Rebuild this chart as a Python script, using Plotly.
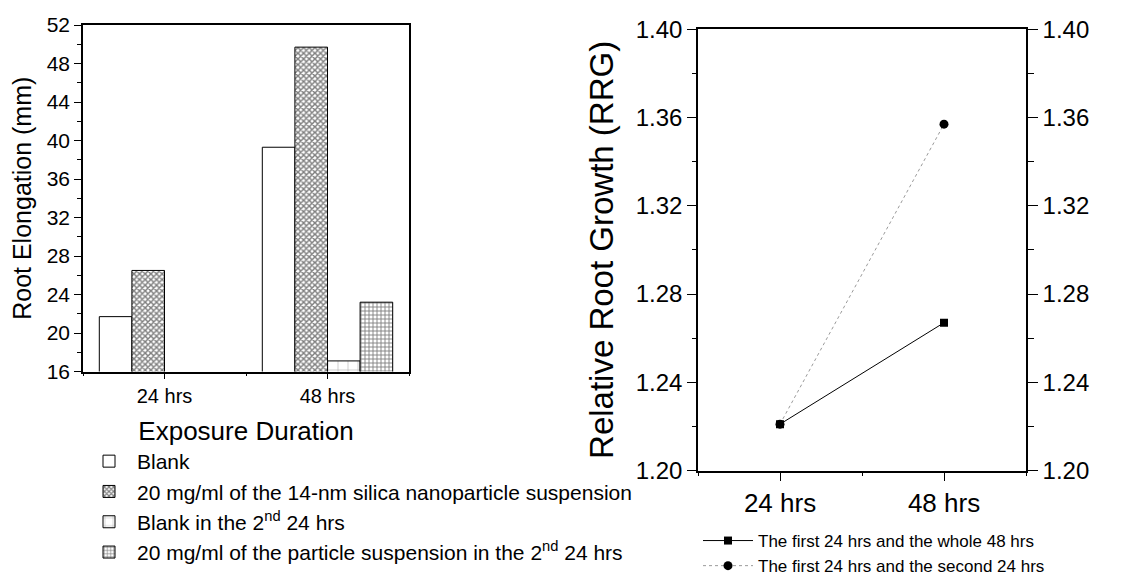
import plotly.graph_objects as go

categories = ["24 hrs", "48 hrs"]
cat_pos = [0, 1]

blank = [21.7, 39.3]
silica_14nm = [26.5, 49.7]
blank_2nd = [None, 17.1]
silica_2nd = [None, 23.2]

rrg_whole = [1.221, 1.267]
rrg_second = [1.221, 1.357]

FONT = "Liberation Sans, Arial, Helvetica, sans-serif"
W, H = 1121, 575

fig = go.Figure()

bar_line = dict(color="black", width=1)
fig.add_trace(go.Bar(x=cat_pos, y=blank, name="Blank", legend="legend",
                     marker=dict(color="white", line=bar_line)))
fig.add_trace(go.Bar(x=cat_pos, y=silica_14nm, legend="legend",
                     name="20 mg/ml of the 14-nm silica nanoparticle suspension",
                     marker=dict(color="white", line=bar_line,
                                 pattern=dict(shape="x", fgcolor="black", bgcolor="white",
                                              size=4, solidity=0.6))))
fig.add_trace(go.Bar(x=cat_pos, y=blank_2nd, legend="legend",
                     name="Blank in the 2<sup>nd</sup> 24 hrs",
                     marker=dict(color="white", line=bar_line,
                                 pattern=dict(shape="+", fgcolor="#444444", bgcolor="white",
                                              size=10, solidity=0.1))))
fig.add_trace(go.Bar(x=cat_pos, y=silica_2nd, legend="legend",
                     name="20 mg/ml of the particle suspension in the 2<sup>nd</sup> 24 hrs",
                     marker=dict(color="white", line=bar_line,
                                 pattern=dict(shape="+", fgcolor="black", bgcolor="white",
                                              size=4, solidity=0.4))))

# right panel
fig.add_trace(go.Scatter(x=cat_pos, y=rrg_second, xaxis="x2", yaxis="y2",
                         mode="lines+markers", legend="legend2", legendrank=2,
                         name="The first 24 hrs and the second 24 hrs",
                         line=dict(color="#9a9a9a", width=1, dash="dot"),
                         marker=dict(symbol="circle", size=9, color="black")))
fig.add_trace(go.Scatter(x=cat_pos, y=rrg_whole, xaxis="x2", yaxis="y2",
                         mode="lines+markers", legend="legend2", legendrank=1,
                         name="The first 24 hrs and the whole 48 hrs",
                         line=dict(color="black", width=1),
                         marker=dict(symbol="square", size=8, color="black")))
fig.add_trace(go.Scatter(x=[], y=[], xaxis="x2", yaxis="y3", showlegend=False,
                         hoverinfo="skip"))

axis_common = dict(showline=True, linecolor="black", linewidth=1.5, showgrid=False,
                   zeroline=False, tickcolor="black", tickwidth=1.2, automargin=False)

fig.update_layout(
    width=W, height=H,
    margin=dict(l=0, r=0, t=0, b=0, autoexpand=False),
    paper_bgcolor="white", plot_bgcolor="white",
    font=dict(family=FONT, color="black"),
    barmode="group", bargap=0.2, bargroupgap=0,
    xaxis=dict(axis_common, domain=[83 / W, 409 / W], range=[-0.5, 1.5], anchor="y",
               tickvals=cat_pos, ticktext=categories, ticks="outside", ticklen=6,
               mirror=True, tickfont=dict(size=20),
               minor=dict(dtick=0.5, tick0=-0.5, ticks="outside", ticklen=3,
                          tickcolor="black"),
               title=dict(text="Exposure Duration", font=dict(size=26), standoff=16)),
    yaxis=dict(axis_common, domain=[1 - 371.5 / H, 1 - 25 / H], range=[16, 52], anchor="x",
               dtick=4, tick0=16, ticks="outside", ticklen=7, mirror=True,
               tickfont=dict(size=21),
               minor=dict(dtick=2, ticks="outside", ticklen=4, tickcolor="black"),
               title=dict(text="Root Elongation (mm)", font=dict(size=25), standoff=8)),
    xaxis2=dict(axis_common, domain=[698 / W, 1026 / W], range=[-0.5, 1.5], anchor="y2",
                tickvals=cat_pos, ticktext=categories, ticks="outside", ticklen=9,
                mirror=True, tickfont=dict(size=26),
                minor=dict(dtick=0.5, tick0=-0.5, ticks="outside", ticklen=4,
                           tickcolor="black")),
    yaxis2=dict(axis_common, domain=[1 - 470.5 / H, 1 - 29.3 / H], range=[1.2, 1.4],
                anchor="x2", dtick=0.04, tick0=1.2, tickformat=".2f", ticks="outside",
                ticklen=9, tickfont=dict(size=24),
                minor=dict(dtick=0.02, ticks="outside", ticklen=4, tickcolor="black"),
                title=dict(text="Relative Root Growth (RRG)", font=dict(size=33),
                           standoff=12)),
    yaxis3=dict(axis_common, overlaying="y2", side="right", anchor="x2",
                range=[1.2, 1.4], dtick=0.04, tick0=1.2, tickformat=".2f",
                ticks="outside", ticklen=10, tickfont=dict(size=24),
                minor=dict(dtick=0.02, ticks="outside", ticklen=6, tickcolor="black")),
    legend=dict(x=81 / W, y=1 - 441 / H, xanchor="left", yanchor="top",
                font=dict(size=21), bgcolor="rgba(0,0,0,0)", traceorder="normal",
                itemwidth=46, tracegroupgap=0),
    legend2=dict(x=698 / W, y=1 - 523 / H, xanchor="left", yanchor="top",
                 font=dict(size=17), bgcolor="rgba(0,0,0,0)", itemwidth=50),
    showlegend=True,
)

fig.write_html("out.html", config={"displayModeBar": False},
               post_script="document.body.style.margin='0';")
